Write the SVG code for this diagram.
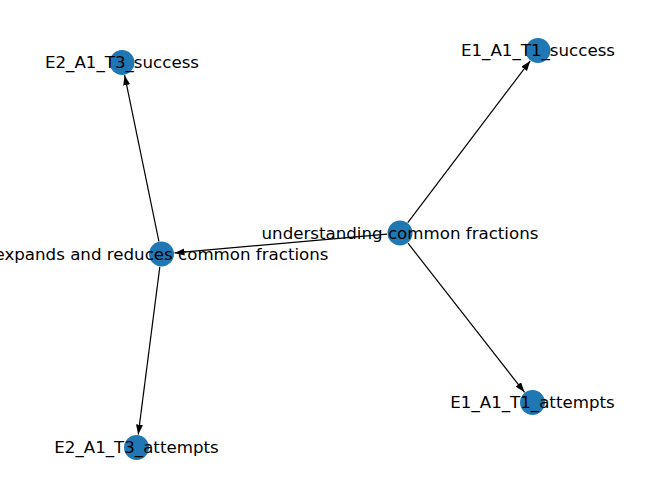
<svg xmlns="http://www.w3.org/2000/svg" width="660" height="499" viewBox="0 0 660 499">
<style>
.e{stroke:#000;stroke-width:1.2;fill:none;marker-end:url(#ah)}
.n{fill:#1f77b4}
.t{font-family:"DejaVu Sans",sans-serif;font-size:16.67px;fill:#000;text-anchor:middle;dominant-baseline:central}
</style>
<defs>
<marker id="ah" markerUnits="userSpaceOnUse" markerWidth="11" markerHeight="8" refX="10" refY="3.5" orient="auto">
<path d="M0,0 L10,3.5 L0,7 z" fill="#000"/>
</marker>
</defs>
<rect width="660" height="499" fill="#fff"/>
<g id="edges">
<line class="e" x1="407.8" y1="222.6" x2="530.2" y2="60.9"/>
<line class="e" x1="408" y1="243.2" x2="524.5" y2="392.3"/>
<line class="e" x1="387" y1="234.1" x2="174.5" y2="252.9"/>
<line class="e" x1="158.9" y1="241.3" x2="124.6" y2="75.2"/>
<line class="e" x1="159.8" y1="266.9" x2="138.2" y2="434.6"/>
</g>
<g id="n_E2_A1_T3_success"><circle class="n" cx="122" cy="62.5" r="12.5"/><text class="t" x="122" y="62.5">E2_A1_T3_success</text></g>
<g id="n_E1_A1_T1_success"><circle class="n" cx="538" cy="50.5" r="12.5"/><text class="t" x="538" y="50.5">E1_A1_T1_success</text></g>
<g id="n_understanding"><circle class="n" cx="400" cy="233" r="12.5"/><text class="t" x="400" y="233">understanding common fractions</text></g>
<g id="n_expands"><circle class="n" cx="161.5" cy="254" r="12.5"/><text class="t" x="161.5" y="254">expands and reduces common fractions</text></g>
<g id="n_E1_A1_T1_attempts"><circle class="n" cx="532.5" cy="402.5" r="12.5"/><text class="t" x="532.5" y="402.5">E1_A1_T1_attempts</text></g>
<g id="n_E2_A1_T3_attempts"><circle class="n" cx="136.5" cy="447.5" r="12.5"/><text class="t" x="136.5" y="447.5">E2_A1_T3_attempts</text></g>
</svg>
